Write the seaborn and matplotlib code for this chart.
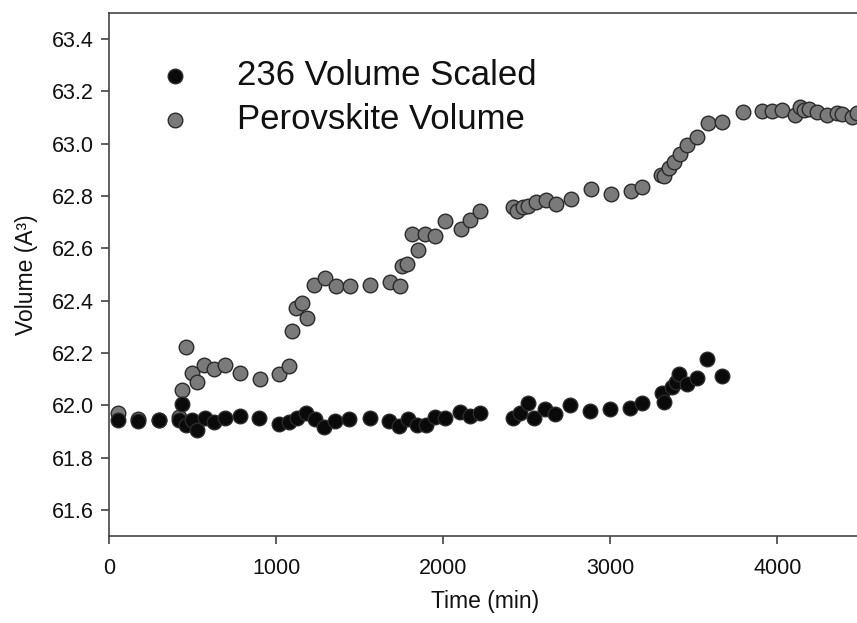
import numpy as np
import pandas as pd
import matplotlib
matplotlib.use("Agg")
import matplotlib.pyplot as plt
import seaborn as sns

# 236 Volume Scaled
t_236 = [56, 175, 299, 419, 435, 461, 495, 525, 574, 630, 694, 784, 900, 1019, 1079,
         1123, 1179, 1233, 1287, 1352, 1438, 1562, 1677, 1737, 1791, 1845, 1897, 1951,
         2011, 2100, 2160, 2220, 2419, 2460, 2509, 2543, 2609, 2669, 2759, 2878, 2998,
         3118, 3190, 3307, 3321, 3367, 3390, 3413, 3457, 3521, 3580, 3667]
v_236 = [61.943, 61.940, 61.943, 61.943, 62.003, 61.924, 61.943, 61.905, 61.950, 61.937,
         61.950, 61.958, 61.953, 61.930, 61.937, 61.950, 61.969, 61.946, 61.917, 61.940,
         61.946, 61.950, 61.940, 61.920, 61.946, 61.924, 61.924, 61.956, 61.953, 61.975,
         61.958, 61.971, 61.953, 61.971, 62.009, 61.950, 61.984, 61.966, 62.000, 61.979,
         61.984, 61.988, 62.007, 62.047, 62.013, 62.070, 62.090, 62.119, 62.080, 62.103,
         62.175, 62.111]

# Perovskite Volume
t_per = [56, 175, 299, 419, 435, 461, 495, 525, 570, 630, 694, 784, 904, 1019, 1077,
         1095, 1119, 1155, 1185, 1227, 1293, 1358, 1442, 1562, 1682, 1742, 1752, 1785,
         1815, 1847, 1891, 1951, 2011, 2104, 2160, 2220, 2416, 2444, 2476, 2509, 2553,
         2613, 2675, 2763, 2883, 3002, 3122, 3190, 3301, 3321, 3353, 3383, 3417, 3461,
         3521, 3583, 3670, 3792, 3910, 3970, 4029, 4105, 4135, 4159, 4191, 4239, 4295,
         4355, 4385, 4445, 4475]
v_per = [61.971, 61.948, 61.943, 61.956, 62.060, 62.222, 62.124, 62.090, 62.153, 62.138,
         62.152, 62.124, 62.100, 62.119, 62.150, 62.283, 62.371, 62.390, 62.333, 62.459,
         62.486, 62.455, 62.455, 62.459, 62.470, 62.455, 62.532, 62.540, 62.653, 62.593,
         62.653, 62.647, 62.705, 62.675, 62.708, 62.743, 62.756, 62.743, 62.756, 62.763,
         62.775, 62.784, 62.768, 62.790, 62.825, 62.807, 62.820, 62.833, 62.880, 62.876,
         62.905, 62.930, 62.960, 62.995, 63.024, 63.078, 63.084, 63.122, 63.125, 63.126,
         63.128, 63.109, 63.141, 63.128, 63.132, 63.122, 63.109, 63.116, 63.112, 63.103,
         63.116]

series_names = ["236 Volume Scaled", "Perovskite Volume"]
x_ticks = [0, 1000, 2000, 3000, 4000]
y_ticks = [61.6, 61.8, 62.0, 62.2, 62.4, 62.6, 62.8, 63.0, 63.2, 63.4]

df = pd.concat([
    pd.DataFrame({"Time": t_236, "Volume": v_236, "Series": series_names[0]}),
    pd.DataFrame({"Time": t_per, "Volume": v_per, "Series": series_names[1]}),
])

sns.set_style("ticks")
plt.rcParams['font.family'] = ['Liberation Sans', 'DejaVu Sans']

fig = plt.figure(figsize=(8.57, 6.23), dpi=100)
ax = fig.add_axes([0.1272, 0.1396, 0.8775, 0.8398])

palette = {series_names[0]: "#0a0a0a", series_names[1]: "#7a7a7a"}
# draw perovskite first so black points sit on top at overlaps
for name in [series_names[1], series_names[0]]:
    sub = df[df["Series"] == name]
    sns.scatterplot(data=sub, x="Time", y="Volume", color=palette[name],
                    s=110, edgecolor="#2a2a2a", linewidth=1.0, ax=ax,
                    label=name, zorder=3 if name == series_names[0] else 2)

ax.set_xlim(0, 4500)
ax.set_ylim(61.5, 63.5)
ax.set_xticks(x_ticks)
ax.set_yticks(y_ticks)
ax.set_yticklabels([f"{v:.1f}" for v in y_ticks])
ax.tick_params(axis="both", direction="out", length=6, width=1.1, colors="#333333",
               labelsize=15.5, labelcolor="#111111")
ax.tick_params(axis="x", pad=10)
ax.tick_params(axis="y", pad=5)
for sp in ax.spines.values():
    sp.set_color("#444444")
    sp.set_linewidth(1.2)

ax.set_xlabel("Time (min)", fontsize=16.5, color="#111111", labelpad=8)
ax.set_ylabel("Volume (A³)", fontsize=16.5, color="#111111", labelpad=10)

handles, labels = ax.get_legend_handles_labels()
order = [labels.index(series_names[0]), labels.index(series_names[1])]
leg = ax.legend([handles[i] for i in order], [labels[i] for i in order],
                loc="upper left", bbox_to_anchor=(0.023, 0.938), frameon=False,
                fontsize=25, handletextpad=0.79, labelspacing=0.32,
                markerscale=1.0, borderaxespad=0)
for txt in leg.get_texts():
    txt.set_color("#111111")

fig.savefig("out.png", dpi=100)
